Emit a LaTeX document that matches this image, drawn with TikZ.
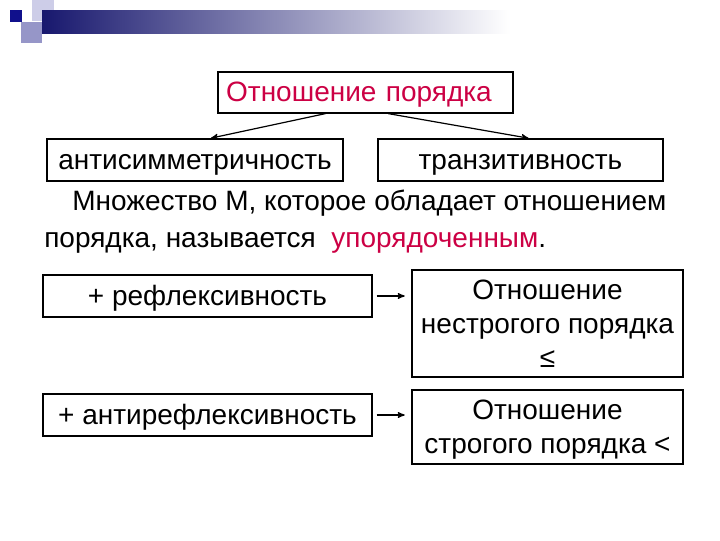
\documentclass[tikz,border=0pt]{standalone}
\usepackage{fontspec}
\setmainfont{Liberation Sans}
\usepackage{xcolor}
\usetikzlibrary{arrows,positioning}
\definecolor{accent}{RGB}{204,0,68}
\definecolor{navy}{RGB}{24,24,110}
\definecolor{darksq}{RGB}{16,16,140}
\definecolor{lavA}{RGB}{205,205,232}
\definecolor{lavB}{RGB}{150,150,200}

\begin{document}
\begin{tikzpicture}[x=0.75pt,y=-0.75pt,>=stealth',shorten >=1pt,
		box/.style={draw,line width=0.9pt,inner sep=0pt,text depth=0pt,font=\fontsize{21}{25.5}\selectfont},
		single/.style={box,text height=14pt,minimum height=31.5pt},
		multi/.style={box,align=center,text depth=-4pt},
		link/.style={->,line width=0.9pt}]
		\useasboundingbox (0,0) rectangle (720,540);
		\fill[white] (0,0) rectangle (720,540);
		% title bar
		\fill[lavA] (32,0) rectangle (54,21);
		\fill[lavB] (21,22) rectangle (42,43);
		\shade[left color=navy,right color=white] (42,10) rectangle (510,33);
		\fill[darksq] (10,10) rectangle (22,22);

		\node[single,minimum width=221.25pt,minimum height=30.75pt,text width=209pt,inner xsep=6pt,align=left,text=accent] (rel) at (365.5,92.5) {Отношение порядка};
		\node[single,minimum width=222pt] (anti) at (195,160) {антисимметричность};
		\node[single,minimum width=213.75pt] (trans) at (520.5,160) {транзитивность};

		\node[anchor=north west,inner sep=0pt,align=left,font=\fontsize{21}{27.75}\selectfont] (def) at (44,190)
			{\hspace*{21pt}Множество М, которое обладает отношением\\порядка, называется \ \textcolor{accent}{упорядоченным}.};

		\node[single,minimum width=246.75pt] (refl) at (207.5,296) {+ рефлексивность};
		\node[single,minimum width=246.75pt] (irrefl) at (207.5,415) {+ антирефлексивность};
		\node[multi,minimum width=203.25pt,minimum height=80.25pt] (nonstrict) at (547.5,323.5) {Отношение\\нестрогого порядка\\≤};
		\node[multi,minimum width=203.25pt,minimum height=55.5pt] (strict) at (547.5,427) {Отношение\\строгого порядка <};

		\draw[link] ([xshift=-30pt]rel.south) -- ([xshift=11pt]anti.north);
		\draw[link] ([xshift=17pt]rel.south) -- ([xshift=7pt]trans.north);
		\draw[link,shorten <=3pt,shorten >=5pt] (refl) -- (refl -| nonstrict.west);
		\draw[link,shorten <=3pt,shorten >=5pt] (irrefl) -- (irrefl -| strict.west);
\end{tikzpicture}
\end{document}
